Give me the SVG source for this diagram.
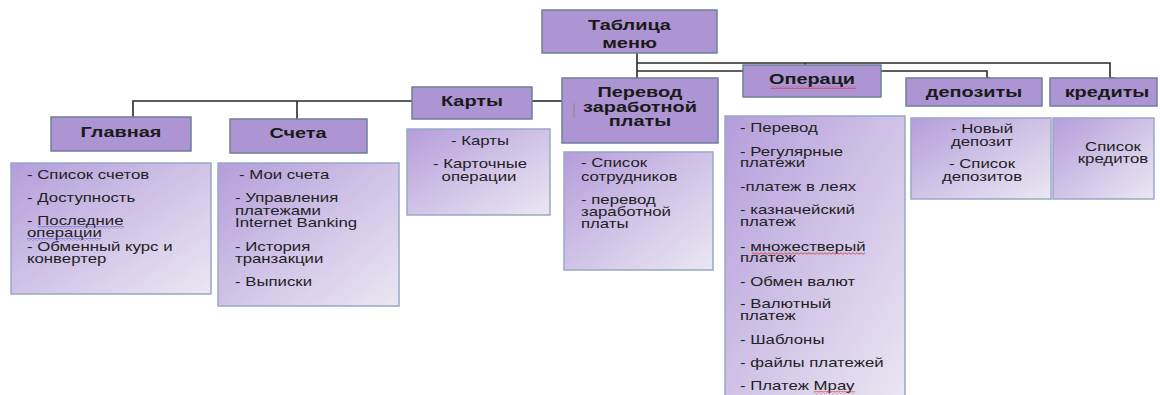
<svg xmlns="http://www.w3.org/2000/svg" width="1160" height="395" viewBox="0 0 1160 395">
<defs>
<linearGradient id="lg" x1="0" y1="0" x2="1" y2="1">
<stop offset="0" stop-color="#b49ddb"/>
<stop offset="0.55" stop-color="#d3c7e8"/>
<stop offset="1" stop-color="#ebe7f3"/>
</linearGradient>
<pattern id="wr" width="4" height="3" patternUnits="userSpaceOnUse">
<path d="M0,1.5 Q1,0 2,1.5 T4,1.5" fill="none" stroke="#d83030" stroke-width="0.8"/>
</pattern>
<pattern id="wb" width="4" height="3" patternUnits="userSpaceOnUse">
<path d="M0,1.5 Q1,0 2,1.5 T4,1.5" fill="none" stroke="#5a62c8" stroke-width="0.8"/>
</pattern>
<style>
.hb{fill:#ad94d3;stroke:#6e7f9b;stroke-width:1.5}
.lb{fill:url(#lg);stroke:#98a9c4;stroke-width:1.5}
.h{font-family:"Liberation Sans",Arial,sans-serif;font-weight:bold;font-size:14px;fill:#1a1a1a;text-anchor:middle}
.t{font-family:"Liberation Sans",Arial,sans-serif;font-size:12px;fill:#222}
.c{text-anchor:middle}
.cn{fill:none;stroke:#2a2a2a;stroke-width:1.6}
</style>
</defs>
<rect width="1160" height="395" fill="#ffffff"/>
<g id="connectors">
<path class="cn" d="M637,53 V78"/>
<path class="cn" d="M637,63 H1110 V78 H1115"/>
<path class="cn" d="M805,63 V65"/>
<path class="cn" d="M637,71 H743"/>
<path class="cn" d="M870,71 H987 V78 H990"/>
<path class="cn" d="M133,117 V101 H412"/>
<path class="cn" d="M297,101 V119"/>
<path class="cn" d="M532,101 H562"/>
</g>
<g id="root">
<rect class="hb" x="542" y="10" width="175" height="43"/>
<text class="h" transform="translate(629.5 30) scale(1.42 1)">Таблица</text>
<text class="h" transform="translate(629.5 48) scale(1.42 1)">меню</text>
</g>
<g id="glavnaya">
<rect class="hb" x="51" y="117" width="140" height="34"/>
<text class="h" transform="translate(121 137) scale(1.42 1)">Главная</text>
</g>
<g id="scheta">
<rect class="hb" x="230" y="119" width="137" height="34"/>
<text class="h" transform="translate(298 138) scale(1.42 1)">Счета</text>
</g>
<g id="karty">
<rect class="hb" x="412" y="87" width="120" height="32"/>
<text class="h" transform="translate(472 106) scale(1.42 1)">Карты</text>
</g>
<g id="perevod">
<rect class="hb" x="562" y="78" width="156" height="65"/>
<text class="h" transform="translate(640 97) scale(1.42 1)">Перевод</text>
<text class="h" transform="translate(640 112) scale(1.42 1)">заработной</text>
<text class="h" transform="translate(640 126) scale(1.42 1)">платы</text>
<path d="M574,103 V118" stroke="#8a8a8a" stroke-width="1" fill="none"/>
</g>
<g id="operaci">
<rect class="hb" x="743" y="65" width="138" height="32"/>
<text class="h" transform="translate(812 84) scale(1.42 1)">Операци</text>
<rect x="770" y="86" width="86" height="3" fill="url(#wr)"/>
</g>
<g id="depozity">
<rect class="hb" x="906" y="78" width="136" height="28"/>
<text class="h" transform="translate(974 97) scale(1.42 1)">депозиты</text>
</g>
<g id="kredity">
<rect class="hb" x="1050" y="78" width="107" height="28"/>
<text class="h" transform="translate(1107 97) scale(1.42 1)">кредиты</text>
</g>
<g id="glavnaya-list">
<rect class="lb" x="11" y="163" width="200" height="131"/>
<text class="t" transform="translate(27 179) scale(1.4 1)">- Список счетов</text>
<text class="t" transform="translate(27 202) scale(1.4 1)">- Доступность</text>
<text class="t" transform="translate(27 225) scale(1.4 1)">- Последние</text>
<rect x="38" y="226" width="86" height="3" fill="url(#wb)"/>
<text class="t" transform="translate(27 237) scale(1.4 1)">операции</text>
<rect x="27" y="238" width="74" height="3" fill="url(#wb)"/>
<text class="t" transform="translate(27 251) scale(1.4 1)">- Обменный курс и</text>
<text class="t" transform="translate(27 263) scale(1.4 1)">конвертер</text>
</g>
<g id="scheta-list">
<rect class="lb" x="218" y="163" width="181" height="143"/>
<text class="t" transform="translate(239 179) scale(1.4 1)">- Мои счета</text>
<text class="t" transform="translate(235 202) scale(1.4 1)">- Управления</text>
<text class="t" transform="translate(235 215) scale(1.4 1)">платежами</text>
<text class="t" transform="translate(235 227) scale(1.4 1)">Internet Banking</text>
<text class="t" transform="translate(235 251) scale(1.4 1)">- История</text>
<text class="t" transform="translate(235 263) scale(1.4 1)">транзакции</text>
<text class="t" transform="translate(235 286) scale(1.4 1)">- Выписки</text>
</g>
<g id="karty-list">
<rect class="lb" x="407" y="129" width="143" height="86"/>
<text class="t c" transform="translate(480 145) scale(1.4 1)">- Карты</text>
<text class="t c" transform="translate(480 168) scale(1.4 1)">- Карточные</text>
<text class="t c" transform="translate(479 181) scale(1.4 1)">операции</text>
</g>
<g id="perevod-list">
<rect class="lb" x="564" y="152" width="149" height="118"/>
<text class="t" transform="translate(581 167) scale(1.4 1)">- Список</text>
<text class="t" transform="translate(581 181) scale(1.4 1)">сотрудников</text>
<text class="t" transform="translate(581 204) scale(1.4 1)">- перевод</text>
<text class="t" transform="translate(581 216) scale(1.4 1)">заработной</text>
<text class="t" transform="translate(581 228) scale(1.4 1)">платы</text>
</g>
<g id="operaci-list">
<rect class="lb" x="725" y="116" width="180" height="290"/>
<text class="t" transform="translate(740 132) scale(1.4 1)">- Перевод</text>
<text class="t" transform="translate(740 156) scale(1.4 1)">- Регулярные</text>
<text class="t" transform="translate(740 167) scale(1.4 1)">платежи</text>
<text class="t" transform="translate(740 191) scale(1.4 1)">-платеж в леях</text>
<text class="t" transform="translate(740 214) scale(1.4 1)">- казначейский</text>
<text class="t" transform="translate(740 226) scale(1.4 1)">платеж</text>
<text class="t" transform="translate(740 251) scale(1.4 1)">- множестверый</text>
<rect x="752" y="252" width="113" height="3" fill="url(#wr)"/>
<text class="t" transform="translate(740 262) scale(1.4 1)">платеж</text>
<text class="t" transform="translate(740 286) scale(1.4 1)">- Обмен валют</text>
<text class="t" transform="translate(740 308) scale(1.4 1)">- Валютный</text>
<text class="t" transform="translate(740 320) scale(1.4 1)">платеж</text>
<text class="t" transform="translate(740 344) scale(1.4 1)">- Шаблоны</text>
<text class="t" transform="translate(740 367) scale(1.4 1)">- файлы платежей</text>
<text class="t" transform="translate(740 390) scale(1.4 1)">- Платеж Мрау</text>
<rect x="814" y="391" width="41" height="3" fill="url(#wr)"/>
</g>
<g id="depozity-list">
<rect class="lb" x="911" y="118" width="140" height="81"/>
<text class="t c" transform="translate(982 133) scale(1.4 1)">- Новый</text>
<text class="t c" transform="translate(982 146) scale(1.4 1)">депозит</text>
<text class="t c" transform="translate(982 168) scale(1.4 1)">- Список</text>
<text class="t c" transform="translate(982 181) scale(1.4 1)">депозитов</text>
</g>
<g id="kredity-list">
<rect class="lb" x="1053" y="118" width="101" height="81"/>
<text class="t c" transform="translate(1113 151) scale(1.4 1)">Список</text>
<text class="t c" transform="translate(1113 163) scale(1.4 1)">кредитов</text>
</g>
</svg>
